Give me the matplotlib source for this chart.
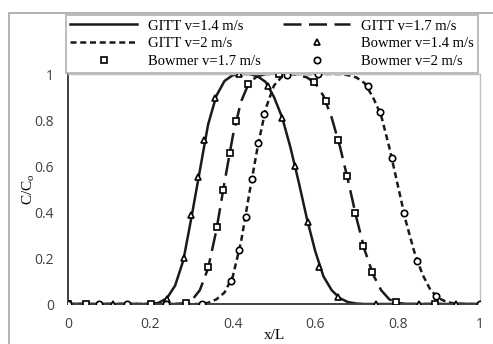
import matplotlib
matplotlib.use("Agg")
import matplotlib.pyplot as plt
from matplotlib.patches import Rectangle

# GITT solutions
x_gitt = [0.0, 0.20, 0.22, 0.24, 0.26, 0.28, 0.30, 0.32, 0.34, 0.36, 0.38, 0.40,
          0.42, 0.44, 0.46, 0.48, 0.50, 0.52, 0.54, 0.56, 0.58, 0.60, 0.62, 0.64,
          0.66, 0.68, 0.70, 0.72, 0.74, 0.76, 0.78, 0.80, 0.82, 0.84, 0.86, 0.88,
          0.90, 0.92, 0.94, 0.96, 1.0]
gitt_14 = [0.0, 0.0, 0.005, 0.025, 0.08, 0.19, 0.38, 0.58, 0.78, 0.905, 0.97, 0.995,
           1.0, 1.0, 0.99, 0.965, 0.90, 0.81, 0.68, 0.53, 0.37, 0.23, 0.12, 0.06,
           0.025, 0.008, 0.002, 0.0, 0.0, 0.0, 0.0, 0.0, 0.0, 0.0, 0.0, 0.0,
           0.0, 0.0, 0.0, 0.0, 0.0]
gitt_17 = [0.0, 0.0, 0.0, 0.0, 0.0, 0.003, 0.015, 0.06, 0.155, 0.32, 0.53, 0.73,
           0.88, 0.965, 0.99, 1.0, 1.0, 1.0, 1.0, 0.995, 0.985, 0.96, 0.905, 0.81,
           0.685, 0.535, 0.375, 0.235, 0.13, 0.06, 0.02, 0.005, 0.0, 0.0, 0.0, 0.0,
           0.0, 0.0, 0.0, 0.0, 0.0]
gitt_20 = [0.0, 0.0, 0.0, 0.0, 0.0, 0.0, 0.0, 0.0, 0.005, 0.02, 0.05, 0.12,
           0.27, 0.48, 0.68, 0.85, 0.95, 0.99, 1.0, 1.0, 1.0, 1.0, 1.0, 1.0,
           1.0, 0.995, 0.985, 0.96, 0.90, 0.82, 0.68, 0.52, 0.36, 0.23, 0.13, 0.06,
           0.025, 0.008, 0.002, 0.0, 0.0]

# Bowmer experimental points
bx_14 = [0.0, 0.11, 0.24, 0.281, 0.299, 0.316, 0.329, 0.357, 0.415, 0.486, 0.52,
         0.551, 0.582, 0.61, 0.655, 0.748, 0.851, 0.941]
by_14 = [0.0, 0.0, 0.023, 0.20, 0.386, 0.553, 0.712, 0.894, 1.0, 0.949, 0.808,
         0.60, 0.357, 0.163, 0.029, 0.0, 0.0, 0.0]
bx_17 = [0.0, 0.043, 0.201, 0.287, 0.341, 0.362, 0.377, 0.392, 0.408, 0.436, 0.512,
         0.598, 0.626, 0.656, 0.677, 0.697, 0.717, 0.738, 0.797, 0.891]
by_17 = [0.0, 0.0, 0.0, 0.006, 0.163, 0.335, 0.495, 0.658, 0.795, 0.955, 1.0,
         0.966, 0.882, 0.712, 0.557, 0.394, 0.252, 0.14, 0.009, 0.0]
bx_20 = [0.0, 0.076, 0.142, 0.237, 0.326, 0.396, 0.416, 0.431, 0.446, 0.462, 0.476,
         0.531, 0.607, 0.727, 0.757, 0.786, 0.816, 0.847, 0.892, 1.0]
by_20 = [0.0, 0.0, 0.0, 0.0, 0.0, 0.10, 0.233, 0.377, 0.542, 0.699, 0.827,
         0.997, 1.0, 0.946, 0.834, 0.635, 0.394, 0.186, 0.035, 0.0]

ticks = [0, 0.2, 0.4, 0.6, 0.8, 1]
tick_labels = ["0", "0.2", "0.4", "0.6", "0.8", "1"]

serif = ["Liberation Serif", "DejaVu Serif"]
tick_font = ["Open Sans", "DejaVu Sans"]

fig = plt.figure(figsize=(4.93, 3.44), dpi=100)
W, H = 493, 344
ax = fig.add_axes([68 / W, (H - 304) / H, (480 - 68) / W, (304 - 74) / H])

# outer chart-area border (cropped at right/bottom)
fig.patches.append(Rectangle((9 / W, -0.1), 1.2, (H - 13) / H + 0.1,
                             transform=fig.transFigure, fill=False,
                             edgecolor="#a6a6a6", linewidth=1.2))

lc = "#1a1a1a"
lw = 1.8
l1, = ax.plot(x_gitt, gitt_14, color=lc, lw=lw, label="GITT v=1.4 m/s")
l2, = ax.plot(x_gitt, gitt_17, color=lc, lw=lw, dashes=(7.2, 3.0), label="GITT v=1.7 m/s")
l3, = ax.plot(x_gitt, gitt_20, color=lc, lw=lw, dashes=(2.4, 1.5), label="GITT v=2 m/s")
m1, = ax.plot(bx_14, by_14, "^", ms=4.4, mfc="white", mec="black", mew=1.2, ls="none",
              label="Bowmer v=1.4 m/s", zorder=5)
m2, = ax.plot(bx_17, by_17, "s", ms=4.6, mfc="white", mec="black", mew=1.2, ls="none",
              label="Bowmer v=1.7 m/s", zorder=5)
m3, = ax.plot(bx_20, by_20, "o", ms=4.6, mfc="white", mec="black", mew=1.2, ls="none",
              label="Bowmer v=2 m/s", zorder=5)

ax.set_xlim(0, 1)
ax.set_ylim(0, 1)
ax.set_xticks(ticks)
ax.set_xticklabels(tick_labels)
ax.set_yticks(ticks)
ax.set_yticklabels(tick_labels)
ax.tick_params(length=0, colors="#404040", labelsize=10)
ax.tick_params(axis="x", pad=9)
ax.tick_params(axis="y", pad=10)
for lab in ax.get_xticklabels() + ax.get_yticklabels():
    lab.set_family(tick_font)

for s in ["left", "bottom"]:
    ax.spines[s].set_color("#404040")
    ax.spines[s].set_linewidth(1.4)
for s in ["top", "right"]:
    ax.spines[s].set_color("#bfbfbf")
    ax.spines[s].set_linewidth(1.0)

ax.set_xlabel("x/L", family=serif, fontsize=11, labelpad=0)
ax.set_ylabel(r"C/C$_\mathregular{o}$", family=serif, fontsize=11, labelpad=2)
ax.xaxis.set_label_coords(0.5, -0.11)
ax.yaxis.set_label_coords(-0.075, 0.5)

# legend is filled column-wise, so order to get row-wise reading
handles = [l1, l3, m2, l2, m1, m3]
leg = fig.legend(handles=handles, labels=[h.get_label() for h in handles],
                 ncol=2, loc="upper left", bbox_to_anchor=(66 / W, 1 - 15 / H),
                 prop={"family": serif, "size": 10.5}, frameon=True, fancybox=False,
                 edgecolor="#a6a6a6", handlelength=4.6, handletextpad=0.75,
                 columnspacing=1.5, labelspacing=0.32, borderpad=0.3,
                 borderaxespad=0)
leg.get_frame().set_linewidth(1.3)

fig.savefig("out.png", dpi=100)
